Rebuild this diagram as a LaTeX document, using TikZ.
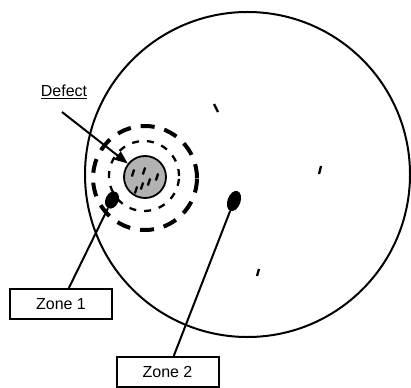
\documentclass[tikz,border=0pt]{standalone}
\usepackage{fontspec}
\setmainfont{Liberation Sans}
\usetikzlibrary{arrows.meta, shapes.geometric}

\begin{document}
\begin{tikzpicture}[x=1pt, y=-1pt,
    zonebox/.style={draw, line width=2pt, minimum width=102pt, minimum height=30pt,
                    inner sep=0pt, font=\fontsize{16}{18}\selectfont},
    blob/.style={ellipse, fill=black, inner sep=0pt},
    speck/.style={line width=2.3pt},
    leader/.style={line width=2pt},
]
    \useasboundingbox (0,0) rectangle (411,387);

    % wafer outline
    \node[circle, draw, line width=2pt, minimum size=325pt, inner sep=0pt] (wafer) at (247.5,174.5) {};

    % zones around the defect
    \draw[line width=4pt, dash pattern=on 14pt off 10pt] (145,178) circle (52pt);
    \draw[line width=2.3pt, dash pattern=on 7pt off 8pt] (144,176) circle (35pt);
    \node[circle, draw, line width=1.8pt, fill=gray!60, minimum size=42pt, inner sep=0pt] (defect) at (145,177) {};
    \foreach \p in {(133,173),(144,171),(157,177),(149,182),(142,186),(136,190)}
        \draw[speck] \p ++(1.2,-3.5) -- ++(-2.4,7);

    % loose specks on the wafer
    \draw[speck] (214,104) -- (218,112);
    \draw[speck] (321,166) -- (319,174);
    \draw[speck] (259,269) -- (257,276);

    % label + arrow
    \node[font=\fontsize{16}{18}\selectfont] (defectlabel) at (64,92) {\underline{Defect}};
    \coordinate (arrowstart) at (62,112);
    \draw[leader, -{Triangle[length=13pt,width=10pt]}] (arrowstart) -- (defect);

    % sampled zones
    \node[blob, rotate=-25, minimum width=13pt, minimum height=18pt] (z1) at (112,200) {};
    \node[blob, rotate=-20, minimum width=13pt, minimum height=21pt] (z2) at (234,201) {};
    \node[zonebox] (zone1) at (61,304) {Zone 1};
    \node[zonebox] (zone2) at (167.5,372) {Zone 2};
    \draw[leader] (z1) -- (zone1);
    \draw[leader] (z2) -- (zone2);
\end{tikzpicture}
\end{document}
